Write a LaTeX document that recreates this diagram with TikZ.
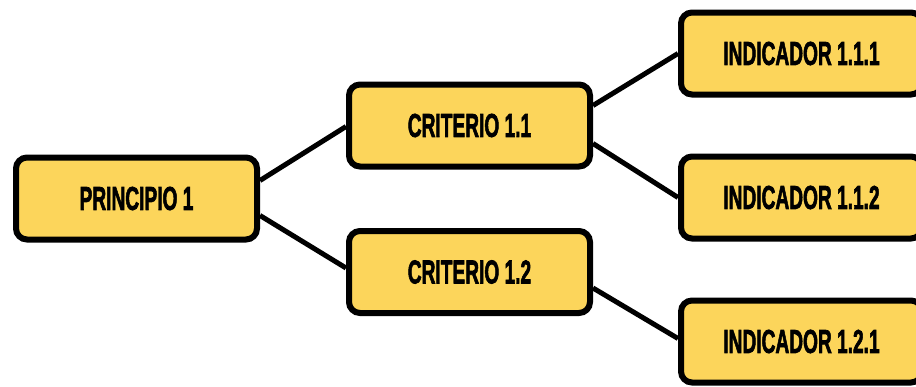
\documentclass[tikz,border=0pt]{standalone}
\usepackage{fontspec}
\newfontfamily\boxfont[FakeBold=2.5]{Liberation Sans Bold}
\usetikzlibrary{calc}
\definecolor{boxfill}{HTML}{FCD55B}
\pgfdeclarelayer{links}
\pgfsetlayers{links,main}
\tikzset{
  stepbox/.style={draw=black, line width=6pt, fill=boxfill, rounded corners=11pt,
    minimum width=241pt, minimum height=82pt, inner sep=0pt,
    font=\boxfont\fontsize{33}{33}\selectfont},
  link/.style={draw=black, line width=5pt}
}
\newcommand\condensed[1]{\scalebox{0.58}[1]{#1}}
\begin{document}
\begin{tikzpicture}[x=1pt,y=-1pt]
  \useasboundingbox (0,0) rectangle (916,386);
  \begin{scope}
    \clip (0,0) rectangle (916,386);
    % tree nodes
    \node[stepbox] (p1)   at (136.5,198.5) {\condensed{PRINCIPIO 1}};
    \node[stepbox] (c11)  at (469.5,125.5) {\condensed{CRITERIO 1.1}};
    \node[stepbox] (c12)  at (469.5,272)   {\condensed{CRITERIO 1.2}};
    \node[stepbox] (i111) at (801.5,53.5)  {\condensed{INDICADOR 1.1.1}};
    \node[stepbox] (i112) at (801.5,197.5) {\condensed{INDICADOR 1.1.2}};
    \node[stepbox] (i121) at (801.5,341.5) {\condensed{INDICADOR 1.2.1}};
    % connectors, kept behind the boxes
    \begin{pgfonlayer}{links}
      \draw[link] ($(p1.east)+(0,-18)$)  -- ($(c11.west)+(0,1)$);
      \draw[link] ($(p1.east)+(0,17)$)   -- ($(c12.west)+(0,-4)$);
      \draw[link] ($(c11.east)+(0,-20)$) -- (i111.west);
      \draw[link] ($(c11.east)+(0,18)$)  -- (i112.west);
      \draw[link] ($(c12.east)+(0,16)$)  -- ($(i121.west)+(0,-3)$);
    \end{pgfonlayer}
  \end{scope}
\end{tikzpicture}
\end{document}
